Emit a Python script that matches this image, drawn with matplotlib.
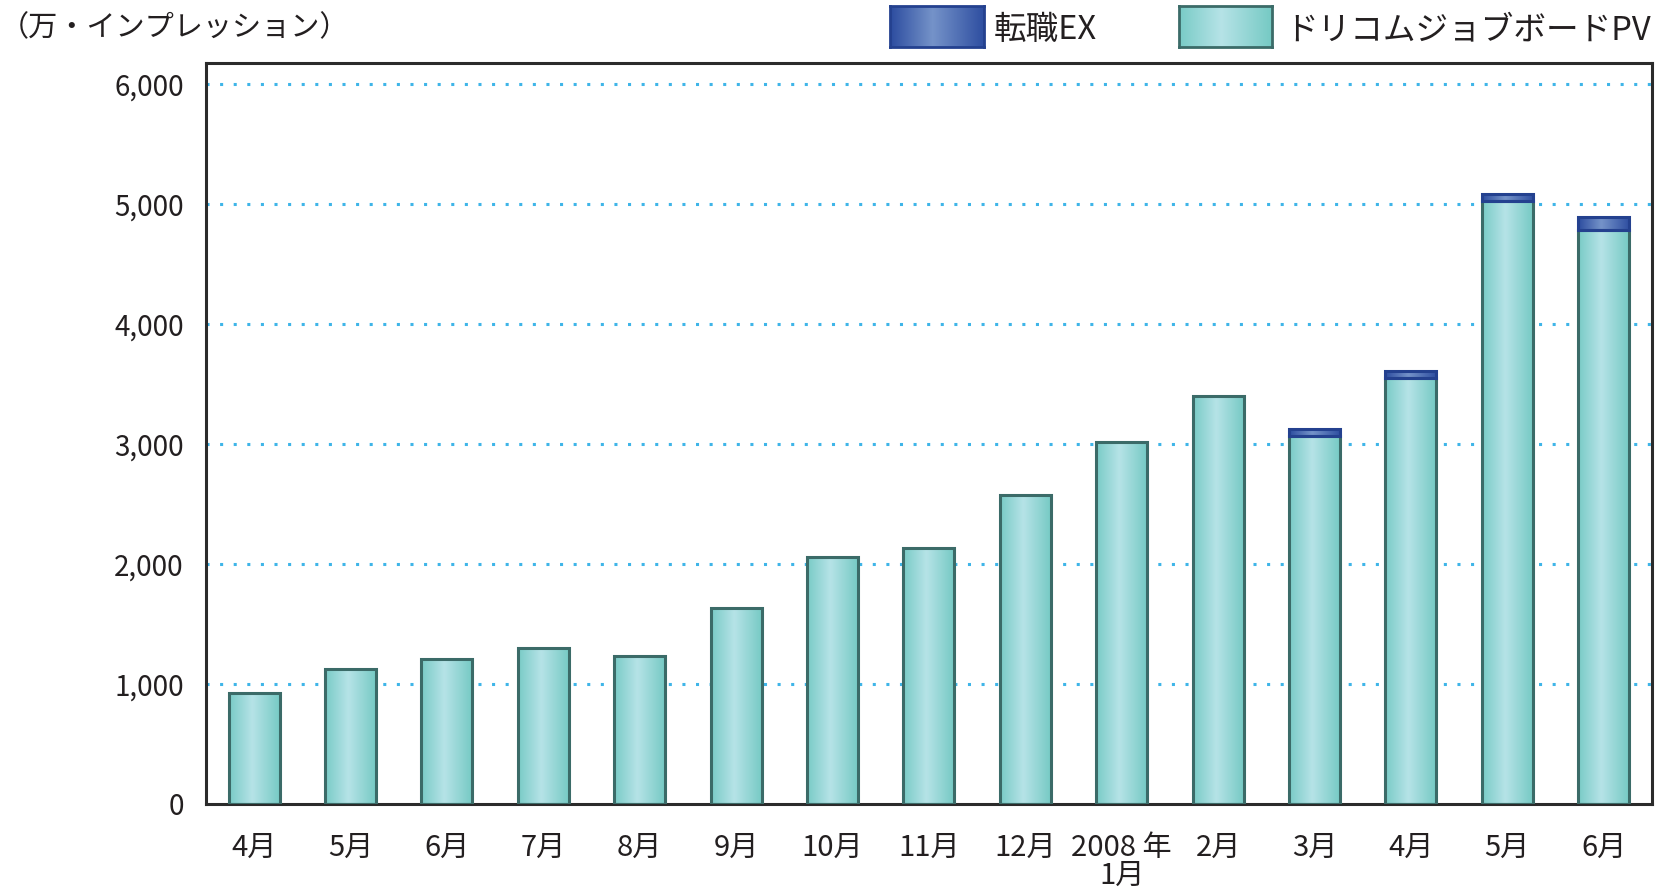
import numpy as np
import matplotlib
matplotlib.use("Agg")
import matplotlib.pyplot as plt
from matplotlib.colors import LinearSegmentedColormap

plt.rcParams['font.family'] = ['Noto Sans CJK JP', 'DejaVu Sans']

# ---- data ----
months = ["4月", "5月", "6月", "7月", "8月", "9月", "10月", "11月", "12月",
          "2008 年\n1月", "2月", "3月", "4月", "5月", "6月"]
pv = [925, 1122, 1211, 1303, 1236, 1634, 2058, 2130, 2573, 3018, 3397, 3069, 3550, 5025, 4780]
ex = [0, 0, 0, 0, 0, 0, 0, 0, 0, 0, 0, 53, 56, 60, 112]
yticks = [0, 1000, 2000, 3000, 4000, 5000, 6000]
unit_label = "（万・インプレッション）"
series_names = ["転職EX", "ドリコムジョブボードPV"]

TXT = "#231f20"
teal_cmap = LinearSegmentedColormap.from_list(
    "teal", [(0, "#78cbc6"), (0.45, "#b6e3e7"), (1, "#74c9c3")])
blue_cmap = LinearSegmentedColormap.from_list(
    "blue", [(0, "#2c4c9f"), (0.45, "#7593c9"), (1, "#2d4da0")])
TEAL_EDGE = "#3b6b68"
BLUE_EDGE = "#24418f"
grad = np.linspace(0, 1, 256).reshape(1, -1)

fig = plt.figure(figsize=(16.62, 8.94), dpi=100)
ax = fig.add_axes([0.1239, 0.1007, 0.8700, 0.8289])

x = np.arange(len(months))
w = 0.53

def gradient_bars(bars, cmap, edge):
    for b in bars:
        if b.get_height() <= 0:
            b.set_visible(False)
            continue
        x0, y0 = b.get_x(), b.get_y()
        im = ax.imshow(grad, cmap=cmap, aspect='auto',
                       extent=(x0, x0 + b.get_width(), y0, y0 + b.get_height()),
                       zorder=2, interpolation='bicubic')
        im.set_clip_path(b)
        b.set_facecolor('none')
        b.set_edgecolor(edge)
        b.set_linewidth(2.2)
        b.set_zorder(3)

b_pv = ax.bar(x, pv, width=w)
gradient_bars(b_pv, teal_cmap, TEAL_EDGE)
b_ex = ax.bar(x, ex, width=w, bottom=pv)
gradient_bars(b_ex, blue_cmap, BLUE_EDGE)

ax.set_xlim(-0.5, len(months) - 0.5)
ax.set_ylim(0, 6175)
ax.set_yticks(yticks)
ax.set_yticklabels([f"{v:,}" for v in yticks])
ax.set_xticks(x)
ax.set_xticklabels(months, linespacing=0.92)

for v in yticks[1:]:
    ax.axhline(v, color="#3fb5e8", linewidth=2.2, linestyle=(0, (1.0, 3.45)),
               dash_capstyle='butt', zorder=1)

ax.tick_params(axis='both', length=0, colors=TXT)
ax.tick_params(axis='y', labelsize=20, pad=16)
ax.tick_params(axis='x', labelsize=21, pad=21)
for s in ax.spines.values():
    s.set_linewidth(2.2)
    s.set_color("#2b2b2b")

fig.text(0.0, 0.9687, unit_label, fontsize=21, color=TXT, ha='left', va='center')

# legend swatches
def swatch(rect, cmap, edge):
    sa = fig.add_axes(rect)
    sa.imshow(grad, cmap=cmap, aspect='auto', extent=(0, 1, 0, 1), interpolation='bicubic')
    sa.set_xticks([]); sa.set_yticks([])
    for s in sa.spines.values():
        s.set_color(edge); s.set_linewidth(2.0)

swatch([0.5355, 0.9474, 0.0566, 0.0459], blue_cmap, BLUE_EDGE)
fig.text(0.598, 0.966, series_names[0], fontsize=23.5, color=TXT, ha='left', va='center')
swatch([0.7094, 0.9474, 0.0560, 0.0459], teal_cmap, TEAL_EDGE)
fig.text(0.7732, 0.966, series_names[1], fontsize=23.5, color=TXT, ha='left', va='center')

fig.savefig("out.png", dpi=100)
